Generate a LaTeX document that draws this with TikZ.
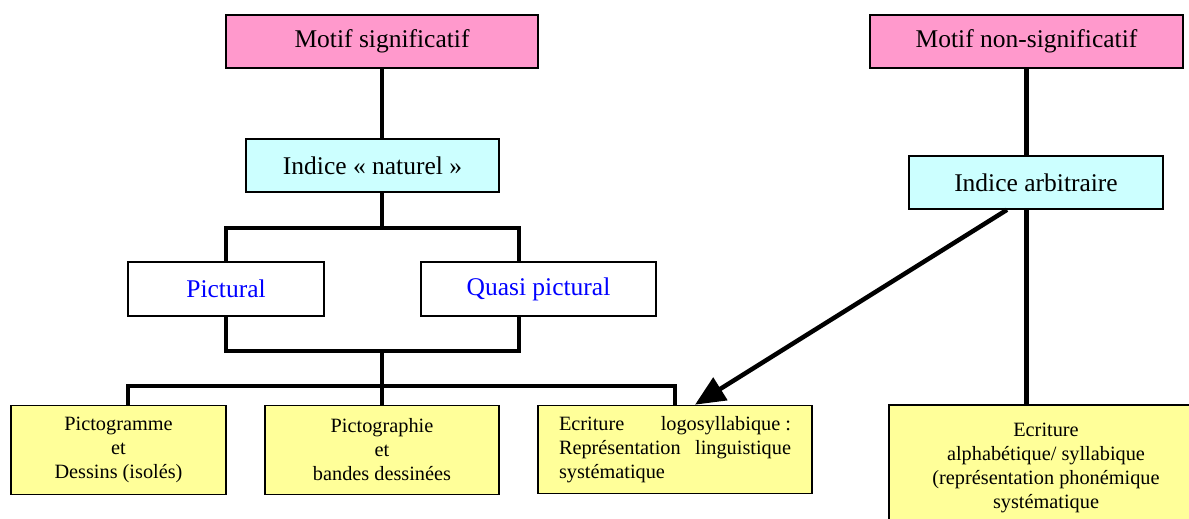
\documentclass[tikz,border=0pt]{standalone}
\usepackage{fontspec}
\setmainfont{Liberation Serif}
\usepackage{tikz}
\usetikzlibrary{positioning,arrows.meta}

\definecolor{motifpink}{RGB}{255,153,204}
\definecolor{indicecyan}{RGB}{204,255,255}
\definecolor{writeyellow}{RGB}{255,255,153}

\begin{document}
\begin{tikzpicture}[x=1pt,y=-1pt,line width=4.5pt,
	every node/.style={draw,line width=1.6pt,inner sep=0pt,align=center},
	bigtext/.style={font=\fontsize{25.5}{30}\selectfont},
	smalltext/.style={font=\fontsize{20.3}{24}\selectfont},
	motifbox/.style={bigtext,fill=motifpink,minimum height=53pt},
	indicebox/.style={bigtext,fill=indicecyan,minimum height=53pt},
	typebox/.style={bigtext,fill=white,text=blue,minimum height=54pt},
	writebox/.style={smalltext,fill=writeyellow,minimum height=89pt}]

		\useasboundingbox (0,0) rectangle (1189,519);

		%top nodes
		\node[motifbox,minimum width=312pt] (motifs) at (382,41.5) {Motif significatif};
		\node[motifbox,minimum width=313pt] (motifn) at (1026.5,41.5) {Motif non-significatif};

		%indice nodes
		\node[indicebox,minimum width=253pt] (naturel) at (372.5,165.5) {Indice «~naturel~»};
		\node[indicebox,minimum width=254pt] (arbitraire) at (1036,182.5) {Indice arbitraire};

		%middle nodes
		\node[typebox,minimum width=196pt] (pictural) at (226,289) {Pictural};
		\node[typebox,minimum width=235pt] (quasi) at (538.5,289) {Quasi pictural};

		%bottom nodes
		\node[writebox,minimum width=215pt] (picto) at (118.5,450) {Pictogramme\\et\\Dessins (isolés)};
		\node[writebox,minimum width=234pt] (bd) at (382,450) {Pictographie\\et\\bandes dessinées};
		\node[writebox,minimum width=274pt,minimum height=88pt,text width=232pt,align=justify] (logo) at (675,449.5)
			{Ecriture logosyllabique\nobreak\hspace{0.25em}:\linebreak Représentation linguistique\linebreak systématique};
		\node[writebox,minimum width=314pt,minimum height=125pt] (alpha) at (1046,467.5)
			{Ecriture\\alphabétique/ syllabique\\(représentation phonémique\\systématique};

		%joints
		\coordinate (top) at (382,228);
		\coordinate (mid) at (382,351);
		\coordinate (bot) at (382,386);

		%edges
		\draw (motifs.south) -- (motifs.south |- naturel.north);
		\draw (motifs.south |- naturel.south) -- (top);
		\draw (pictural.north) |- (top) -| ([xshift=-19.5pt]quasi.north);
		\draw (pictural.south) |- (mid) -| ([xshift=-19.5pt]quasi.south);
		\draw (mid) -- (bot);
		\draw ([xshift=9.5pt]picto.north) |- (bot) -| (logo.north);
		\draw (bot) -- (bd.north);
		\draw (motifn.south) -- (motifn.south |- arbitraire.north);
		\draw (motifn.south |- arbitraire.south) -- (motifn.south |- alpha.north);
		\draw[-{Triangle[length=30pt,width=26pt]}] ([xshift=-29pt]arbitraire.south) -- ([xshift=20pt]logo.north);

		\end{tikzpicture}
\end{document}
